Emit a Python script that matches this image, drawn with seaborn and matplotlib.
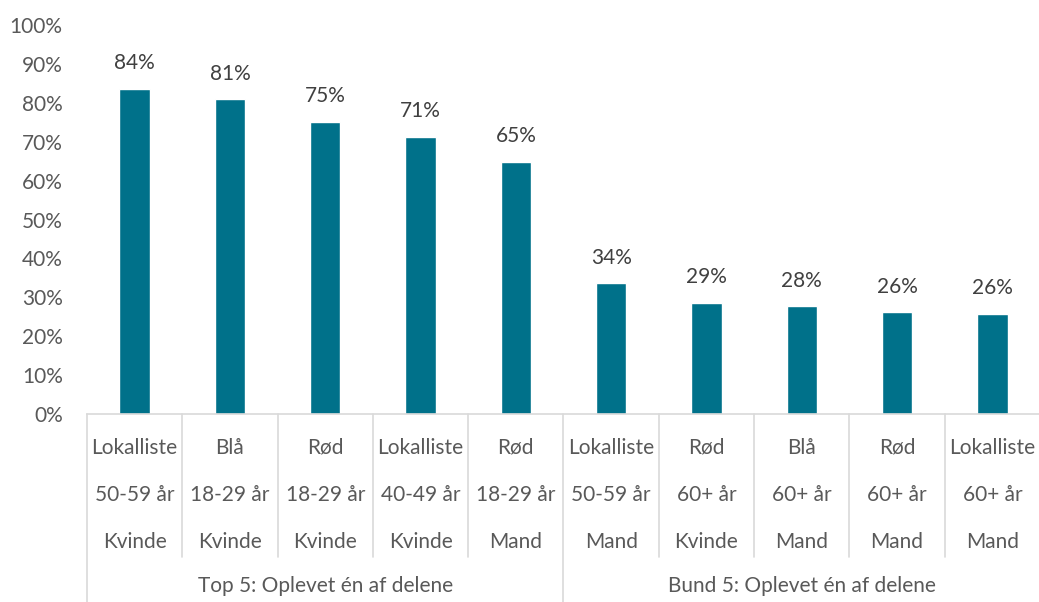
import seaborn as sns
import matplotlib.pyplot as plt
import pandas as pd
from matplotlib.lines import Line2D

# Data
parties = ['Lokalliste', 'Blå', 'Rød', 'Lokalliste', 'Rød',
           'Lokalliste', 'Rød', 'Blå', 'Rød', 'Lokalliste']
ages = ['50-59 år', '18-29 år', '18-29 år', '40-49 år', '18-29 år',
        '50-59 år', '60+ år', '60+ år', '60+ år', '60+ år']
genders = ['Kvinde', 'Kvinde', 'Kvinde', 'Kvinde', 'Mand',
           'Mand', 'Kvinde', 'Mand', 'Mand', 'Mand']
shares = [0.836, 0.809, 0.751, 0.712, 0.648, 0.336, 0.286, 0.277, 0.261, 0.258]
groups = ['Top 5: Oplevet én af delene', 'Bund 5: Oplevet én af delene']

df = pd.DataFrame({'pos': range(len(shares)), 'share': shares})

sns.set_style('white')
plt.rcParams['font.family'] = ['Lato', 'DejaVu Sans']

bar_color = '#00718A'
text_color = '#595959'
grid_color = '#D9D9D9'
fs = 15

fig = plt.figure(figsize=(10.39, 6.02), dpi=100)
ax = fig.add_axes([87 / 1039, 188 / 602, 953 / 1039, 389 / 602])

sns.barplot(data=df, x='pos', y='share', color=bar_color, width=0.32,
            saturation=1, ax=ax, native_scale=True)

ax.set_xlim(-0.5, len(shares) - 0.5)
ax.set_ylim(0, 1)
ax.set_yticks([i / 10 for i in range(11)])
ax.set_yticklabels([f'{i * 10}%' for i in range(11)])
ax.tick_params(axis='y', length=0, pad=17.5, labelsize=fs, labelcolor=text_color)
ax.set_xticks([])
ax.set_xlabel('')
ax.set_ylabel('')

for side in ['top', 'right', 'left']:
    ax.spines[side].set_visible(False)
ax.spines['bottom'].set_color(grid_color)
ax.spines['bottom'].set_linewidth(1.2)

# value labels above the bars
for i, v in enumerate(shares):
    ax.annotate(f'{v:.0%}', (i, v), xytext=(0, 18.5), textcoords='offset points',
                ha='center', va='center', fontsize=fs, color='#404040')

# multi-level category axis
tr = ax.get_xaxis_transform()
px = 1 / 389
for i in range(len(shares)):
    for row, txt in enumerate([parties[i], ages[i], genders[i]]):
        ax.text(i, -(34 + row * 47) * px, txt, transform=tr, ha='center',
                va='center', fontsize=fs, color=text_color, clip_on=False)

# separators between categories and groups
for i in range(len(shares) + 1):
    x = i - 0.5
    if i in (0, 5, 10):
        y_end = -190 * px
    else:
        y_end = -143 * px
    ax.add_line(Line2D([x, x], [0, y_end], transform=tr, color=grid_color,
                       lw=1.2, clip_on=False))

for g, name in enumerate(groups):
    ax.text(2 + g * 5, -172 * px, name, transform=tr, ha='center',
            va='center', fontsize=fs, color=text_color, clip_on=False)

fig.savefig('out.png', dpi=100)
